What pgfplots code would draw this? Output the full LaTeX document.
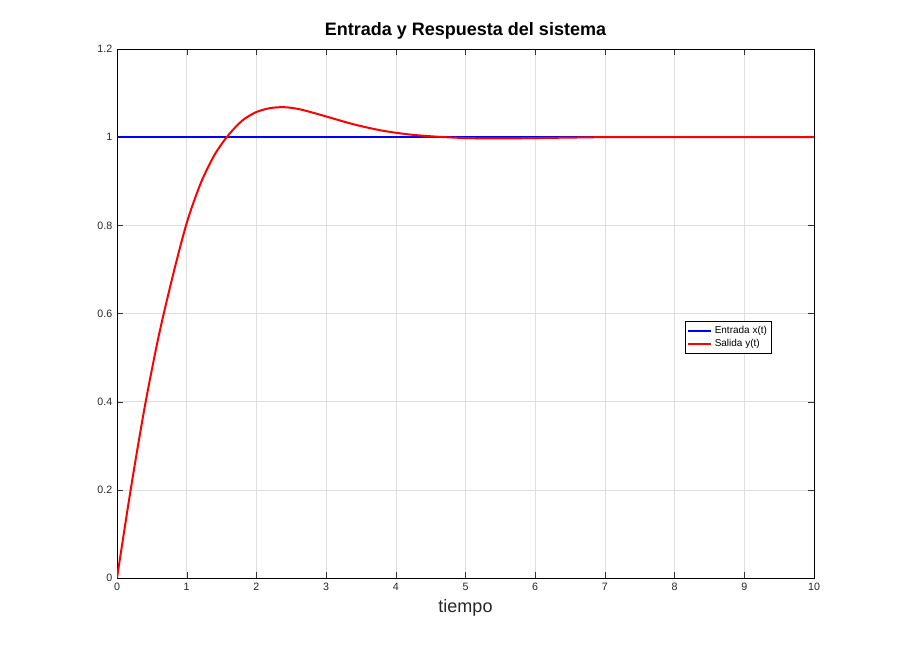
\documentclass[border=0pt]{standalone}
\usepackage{pgfplots}
\pgfplotsset{compat=1.18}
\usepackage{fontspec}
\setmainfont{Liberation Sans}
\begin{document}
\begin{tikzpicture}
\useasboundingbox (0,0) rectangle (675pt,487.5pt);
\begin{axis}[at={(87.75pt,54pt)},anchor=south west,scale only axis,
 width=522.75pt,height=396.75pt,xmin=0,xmax=10,ymin=0,ymax=1.2,
 xtick={0,1,...,10},ytick={0,0.2,0.4,0.6,0.8,1,1.2},
 yticklabels={0,0.2,0.4,0.6,0.8,1,1.2},
 grid=major,grid style={gray!25},
 tick style={black!80},tick align=inside,
 ticklabel style={font=\fontsize{8}{9}\selectfont,text=black!85},
 /pgf/number format/assume math mode=true,
 xtick pos=both,ytick pos=both,
 title={\bfseries Entrada y Respuesta del sistema},
 title style={font=\fontsize{13.5}{15}\selectfont,yshift=-2pt},
 xlabel={tiempo},xlabel style={font=\fontsize{13.5}{15}\selectfont,text=black!85,yshift=0pt},
 legend style={at={(0.815,0.485)},anchor=north west,font=\fontsize{7.5}{8.5}\selectfont,
   draw=black,inner sep=1.5pt,row sep=-1pt},
 legend cell align=left]
\addplot[blue,line width=1.5pt] coordinates {(0,1) (10,1)};
\addlegendentry{Entrada x(t)}
\addplot[red,line width=1.5pt,smooth] coordinates {
(0,0) (0.2,0.204) (0.4,0.39) (0.6,0.55) (0.8,0.685) (1.0,0.805) (1.2,0.895) (1.4,0.96)
(1.6,1.005) (1.8,1.038) (2.0,1.057) (2.2,1.066) (2.4,1.068) (2.6,1.064) (2.8,1.056)
(3.0,1.047) (3.4,1.029) (3.8,1.015) (4.2,1.006) (4.6,1.001) (5.0,0.998) (5.5,0.997)
(6,0.998) (6.5,0.999) (7,1.0) (8,1.0) (10,1.0)};
\addlegendentry{Salida y(t)}
\end{axis}
\end{tikzpicture}
\end{document}
